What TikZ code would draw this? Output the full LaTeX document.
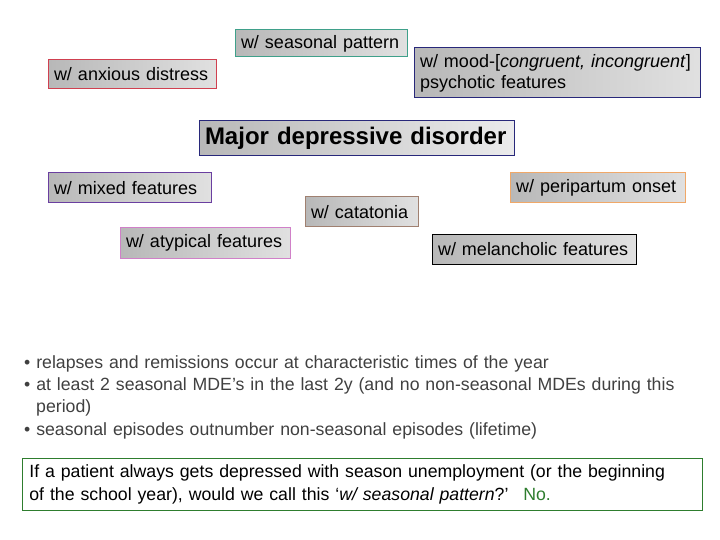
\documentclass[tikz,border=0pt]{standalone}
\usepackage{fontspec}
\setmainfont{Liberation Sans}
\definecolor{cteal}{HTML}{3FA08A}
\definecolor{cred}{HTML}{D04050}
\definecolor{cnavy}{HTML}{28287A}
\definecolor{cpurple}{HTML}{6A3FA0}
\definecolor{ctan}{HTML}{A08070}
\definecolor{corchid}{HTML}{D080C8}
\definecolor{corange}{HTML}{F0A868}
\definecolor{ctext}{HTML}{404040}
\definecolor{cgreen}{HTML}{2E7D2E}
\begin{document}
\begin{tikzpicture}[x=1pt,y=-1pt,
  feat/.style={draw, line width=1pt, left color=black!28, right color=black!12,
    inner xsep=6pt, inner ysep=0pt, align=left, font=\fontsize{18}{21}\selectfont, text=black},
]
\useasboundingbox (0,0) rectangle (720,540);
\node[feat, draw=cteal, minimum width=172pt, text width=160pt, minimum height=27pt] (seas) at (321,43.5) {w/ seasonal pattern};
\node[feat, draw=cred, minimum width=168pt, text width=156pt, minimum height=29pt] (anx) at (132,74.5) {w/ anxious distress};
\node[feat, draw=cnavy, minimum width=286pt, minimum height=50pt, text width=274pt] (mood) at (557,73) {w/ mood-[\textit{congruent, incongruent}]\\psychotic features};
\node[feat, draw=cnavy, minimum width=315pt, minimum height=35pt, text width=303pt, font=\fontsize{24}{28}\selectfont\bfseries, right color=blue!6!black!8] (mdd) at (356.5,138.5) {Major depressive disorder};
\node[feat, draw=cpurple, minimum width=163pt, text width=151pt, minimum height=30pt] (mix) at (129.5,188) {w/ mixed features};
\node[feat, draw=ctan, minimum width=113pt, text width=101pt, minimum height=30pt] (cat) at (361.5,212) {w/ catatonia};
\node[feat, draw=corchid, minimum width=170pt, text width=158pt, minimum height=30pt] (aty) at (205,243) {w/ atypical features};
\node[feat, draw=corange, minimum width=175pt, text width=163pt, minimum height=30pt] (peri) at (597.5,188) {w/ peripartum onset};
\node[feat, draw=black, minimum width=204pt, text width=192pt, minimum height=30pt] (mel) at (534,249) {w/ melancholic features};

\node[anchor=north west, inner sep=0pt, text=ctext, font=\fontsize{17.7}{22.4}\selectfont, text width=690pt, align=left] (bul) at (24,355)
{\textbullet\ relapses and remissions occur at characteristic times of the year\\
\textbullet\ at least 2 seasonal MDE’s in the last 2y (and no non-seasonal MDEs during this\\
\hspace*{12pt}period)\\
\textbullet\ seasonal episodes outnumber non-seasonal episodes (lifetime)};

\node[draw=cgreen, line width=0.8pt, minimum width=680pt, minimum height=52pt, inner xsep=7pt, inner ysep=0pt, anchor=north west, font=\fontsize{17.7}{23}\selectfont, text width=666pt, align=left] (q) at (22,458)
{If a patient always gets depressed with season unemployment (or the beginning\\of the school year), would we call this ‘\textit{w/ seasonal pattern}?’~ \textcolor{cgreen}{No.}};
\end{tikzpicture}
\end{document}
